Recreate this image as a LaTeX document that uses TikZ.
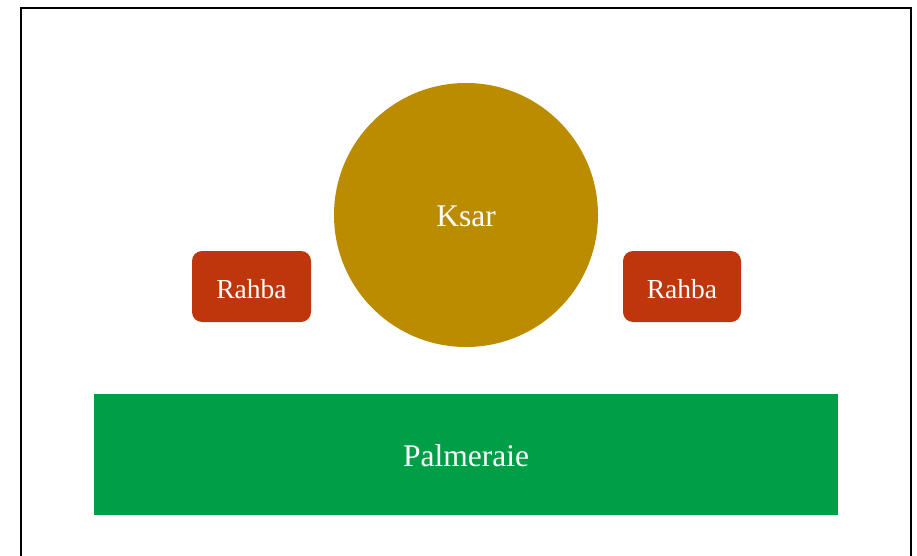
\documentclass[tikz,border=0pt]{standalone}
\usepackage{fontspec}
\setmainfont{Liberation Serif}
\definecolor{ksar}{HTML}{BB8B00}
\definecolor{rahba}{HTML}{BF360C}
\definecolor{palm}{HTML}{009E47}
\begin{document}
\begin{tikzpicture}[x=1pt,y=-1pt,
  rahbabox/.style={fill=rahba,rounded corners=10pt},
  lbl/.style={text=white},
  big/.style={font=\fontsize{31.5}{36}\selectfont},
  small/.style={font=\fontsize{27.5}{31}\selectfont}]
\useasboundingbox (0,0) rectangle (917,556);
\clip (0,0) rectangle (917,556);
\fill[white] (0,0) rectangle (917,556);
\draw[line width=2pt] (21,580) -- (21,8) -- (911,8) -- (911,580);
% Palmeraie
\fill[palm] (94,394) rectangle (838,515);
\node[lbl,big] (palm) at (466,456) {Palmeraie};
% Ksar
\fill[ksar] (466,215) circle[radius=132];
\node[lbl,big] (ksar) at (466,216) {Ksar};
% Rahbas
\fill[rahbabox] (192,251) rectangle (311,322);
\node[lbl,small] (r1) at (251.5,289.5) {Rahba};
\fill[rahbabox] (623,251) rectangle (741,322);
\node[lbl,small] (r2) at (682,289.5) {Rahba};
\end{tikzpicture}
\end{document}
